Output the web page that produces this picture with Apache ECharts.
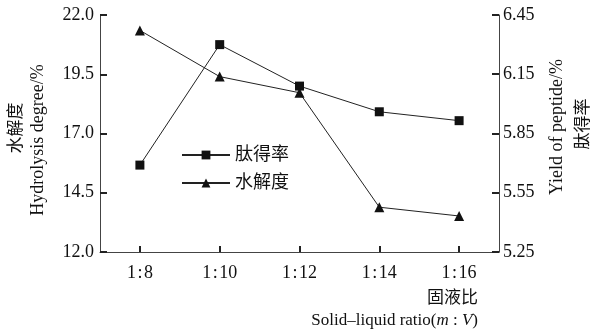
<!DOCTYPE html>
<html>
<head>
<meta charset="utf-8">
<script src="https://cdn.jsdelivr.net/npm/echarts@6/dist/echarts.min.js"></script>
<style>html,body{margin:0;padding:0;background:#fff}#c{width:593px;height:331px}</style>
</head>
<body>
<div id="c"></div>
<script>
var categories = ['1\u200A:\u200A8', '1\u200A:\u200A10', '1\u200A:\u200A12', '1\u200A:\u200A14', '1\u200A:\u200A16'];
var peptideYield = [5.69, 6.30, 6.09, 5.96, 5.915];
var hydrolysisDegree = [21.35, 19.40, 18.72, 13.89, 13.52];
var leftTicks = [12.0, 14.5, 17.0, 19.5, 22.0];
var rightTicks = [5.25, 5.55, 5.85, 6.15, 6.45];

var FONT = "'Liberation Serif', 'Times New Roman', 'Noto Sans CJK SC', serif";
var chart = echarts.init(document.getElementById('c'));
chart.setOption({
  animation: false,
  backgroundColor: '#fff',
  grid: {left: 100, right: 94, top: 15, bottom: 79},
  xAxis: {
    type: 'category',
    data: categories,
    axisLine: {show: true, lineStyle: {color: '#444', width: 1}},
    axisTick: {show: true, inside: true, alignWithLabel: true, length: 6, lineStyle: {color: '#222', width: 2}},
    axisLabel: {color: '#111', fontFamily: FONT, fontSize: 18, margin: 12}
  },
  yAxis: [{
    type: 'value', min: leftTicks[0], max: leftTicks[leftTicks.length - 1], interval: 2.5,
    axisLine: {show: true, lineStyle: {color: '#444', width: 1}},
    axisTick: {show: true, inside: true, length: 7, lineStyle: {color: '#222', width: 2}},
    axisLabel: {color: '#111', fontFamily: FONT, fontSize: 18, margin: 6,
      formatter: function (v) { return v.toFixed(1); }},
    splitLine: {show: false}
  }, {
    type: 'value', min: rightTicks[0], max: rightTicks[rightTicks.length - 1], interval: 0.3,
    position: 'right',
    axisLine: {show: true, lineStyle: {color: '#444', width: 1}},
    axisTick: {show: true, inside: true, length: 7, lineStyle: {color: '#222', width: 2}},
    axisLabel: {color: '#111', fontFamily: FONT, fontSize: 18, margin: 4,
      formatter: function (v) { return v.toFixed(2); }},
    splitLine: {show: false}
  }],
  legend: {
    left: 176, top: 141, orient: 'vertical', itemGap: 10,
    itemWidth: 48, itemHeight: 11,
    textStyle: {color: '#111', fontFamily: FONT, fontSize: 18},
    data: ['肽得率', '水解度']
  },
  series: [{
    name: '肽得率', type: 'line', yAxisIndex: 1, data: peptideYield,
    symbol: 'rect', symbolSize: 9,
    lineStyle: {color: '#222', width: 1}, itemStyle: {color: '#111'}
  }, {
    name: '水解度', type: 'line', yAxisIndex: 0, data: hydrolysisDegree,
    symbol: 'triangle', symbolSize: 10,
    lineStyle: {color: '#222', width: 1}, itemStyle: {color: '#111'}
  }],
  graphic: [
    {type: 'text', x: 15, y: 128, rotation: Math.PI / 2,
      style: {text: '水解度', font: "17px 'Noto Sans CJK SC'", fill: '#111', textAlign: 'center', textVerticalAlign: 'middle'}},
    {type: 'text', x: 38, y: 140, rotation: Math.PI / 2,
      style: {text: 'Hydrolysis degree/%', font: "18px 'Liberation Serif'", fill: '#111', textAlign: 'center', textVerticalAlign: 'middle'}},
    {type: 'text', x: 557, y: 127, rotation: Math.PI / 2,
      style: {text: 'Yield of peptide/%', font: "18px 'Liberation Serif'", fill: '#111', textAlign: 'center', textVerticalAlign: 'middle'}},
    {type: 'text', x: 582, y: 124, rotation: Math.PI / 2,
      style: {text: '肽得率', font: "17px 'Noto Sans CJK SC'", fill: '#111', textAlign: 'center', textVerticalAlign: 'middle'}},
    {type: 'text', x: 478, y: 297,
      style: {text: '固液比', font: "17px 'Noto Sans CJK SC'", fill: '#111', textAlign: 'right', textVerticalAlign: 'middle'}},
    {type: 'text', x: 478, y: 321,
      style: {text: '{a|Solid–liquid ratio(}{i|m}{a| : }{i|V}{a|)}', fill: '#111', textAlign: 'right', textVerticalAlign: 'middle',
        rich: {
          a: {fontFamily: 'Liberation Serif', fontSize: 17, fill: '#111'},
          i: {fontFamily: 'Liberation Serif', fontSize: 17, fontStyle: 'italic', fill: '#111'}
        }}}
  ]
});
</script>
</body>
</html>
